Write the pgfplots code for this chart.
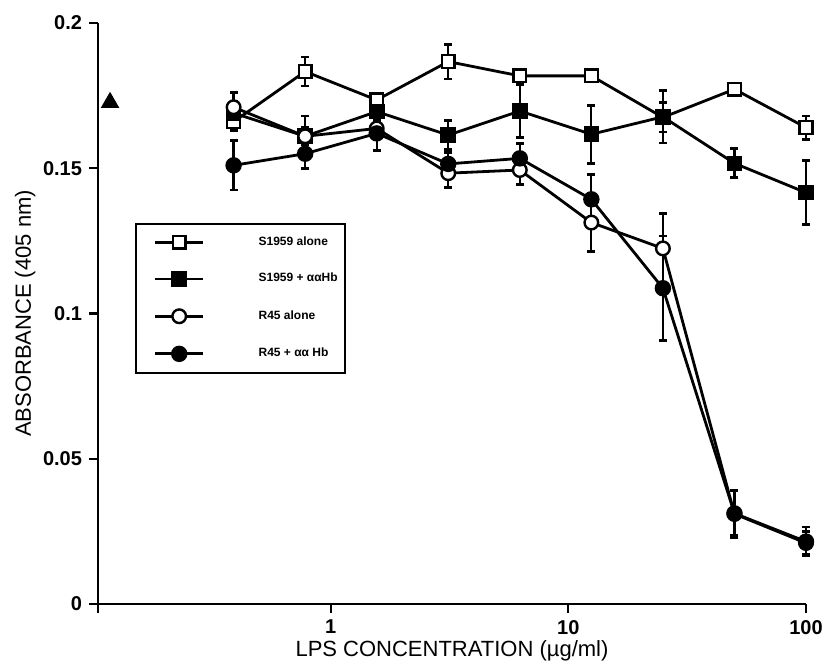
\documentclass[border=0pt]{standalone}
\usepackage{fontspec}
\setmainfont{Liberation Sans}
\usepackage{pgfplots}
\pgfplotsset{compat=1.18}
\begin{document}
\begin{tikzpicture}
\useasboundingbox (-49pt,-30.5pt) rectangle (363pt,302pt);
\begin{axis}[
    scale only axis, width=354pt, height=290.5pt,
    xmode=log, xmin=0.105, xmax=100, ymin=0, ymax=0.2,
    axis x line*=bottom, axis y line*=left,
    axis line style={-, line width=1.2pt},
    xtick={0.105,1,10,100}, xticklabels={,1,10,100},
    ytick={0,0.05,0.1,0.15,0.2}, yticklabels={0,0.05,0.1,0.15,0.2},
    xminorticks=false, yminorticks=false,
    tick align=outside, major tick length=4.5pt,
    tick style={line width=1.1pt, black},
    tick label style={font=\fontsize{10}{12}\selectfont\bfseries},
    xlabel={LPS CONCENTRATION (µg/ml)},
    ylabel={ABSORBANCE (405 nm)},
    label style={font=\fontsize{11}{13}\selectfont},
    xlabel style={at={(axis description cs:0.5,-0.081)}, anchor=center},
    ylabel style={at={(axis description cs:-0.103,0.5)}, anchor=center, rotate=0},
    clip=false,
    every axis plot/.append style={line width=1.4pt, black},
    error bars/y dir=both, error bars/y explicit,
    error bars/error bar style={line width=1.1pt},
    error bars/error mark options={black, rotate=90, mark size=2pt, line width=1.4pt, solid},
    legend style={at={(0.052,0.656)}, anchor=north west, draw=black,
        line width=1pt, inner xsep=3.5pt, inner ysep=6pt, row sep=12pt,
        font=\fontsize{6}{7.5}\selectfont\bfseries,
        nodes={inner sep=0pt}, cells={anchor=west}},
    legend image code/.code={
        \path (-5.5pt,0pt);
        \draw[mark repeat=2, mark phase=2] plot coordinates {(0pt,0pt) (12pt,0pt) (24pt,0pt)};
        \path (51pt,0pt);},
]
% S1959 alone
\addplot[mark=square*, mark size=3.2pt, mark options={fill=white, line width=1.2pt}]
coordinates {
    (0.390625,0.1660) +- (0,0.003)
    (0.78125,0.1833) +- (0,0.005)
    (1.5625,0.1735) +- (0,0.002)
    (3.125,0.1867) +- (0,0.006)
    (6.25,0.1818) +- (0,0.002)
    (12.5,0.1818) +- (0,0.002)
    (25,0.1675) +- (0,0.005)
    (50,0.1772) +- (0,0.002)
    (100,0.1640) +- (0,0.004)
};
\addlegendentry{S1959 alone}
% S1959 + aaHb
\addplot[mark=square*, mark size=3.2pt, mark options={fill=black}]
coordinates {
    (0.390625,0.1690) +- (0,0.004)
    (0.78125,0.1610) +- (0,0.003)
    (1.5625,0.1695) +- (0,0.003)
    (3.125,0.1614) +- (0,0.005)
    (6.25,0.1697) +- (0,0.009)
    (12.5,0.1617) +- (0,0.010)
    (25,0.1677) +- (0,0.009)
    (50,0.1517) +- (0,0.005)
    (100,0.1416) +- (0,0.011)
};
\addlegendentry{S1959 + ααHb}
% R45 alone
\addplot[mark=*, mark size=3.4pt, mark options={fill=white, line width=1.2pt}]
coordinates {
    (0.390625,0.1710) +- (0,0.005)
    (0.78125,0.1610) +- (0,0.007)
    (1.5625,0.1637) +- (0,0.003)
    (3.125,0.1483) +- (0,0.005)
    (6.25,0.1494) +- (0,0.005)
    (12.5,0.1313) +- (0,0.010)
    (25,0.1224) +- (0,0.012)
    (50,0.0310) +- (0,0.008)
    (100,0.0210) +- (0,0.004)
};
\addlegendentry{R45 alone}
% R45 + aaHb
\addplot[mark=*, mark size=3.4pt, mark options={fill=black}]
coordinates {
    (0.390625,0.1510) +- (0,0.0085)
    (0.78125,0.1550) +- (0,0.005)
    (1.5625,0.1620) +- (0,0.006)
    (3.125,0.1515) +- (0,0.004)
    (6.25,0.1534) +- (0,0.005)
    (12.5,0.1393) +- (0,0.0085)
    (25,0.1087) +- (0,0.018)
    (50,0.0312) +- (0,0.0077)
    (100,0.0215) +- (0,0.005)
};
\addlegendentry{R45 + αα Hb}
% control point
\addplot[only marks, mark=triangle*, mark size=4pt, forget plot, error bars/y dir=none]
coordinates {(0.118,0.1726)};
\end{axis}
\end{tikzpicture}
\end{document}
